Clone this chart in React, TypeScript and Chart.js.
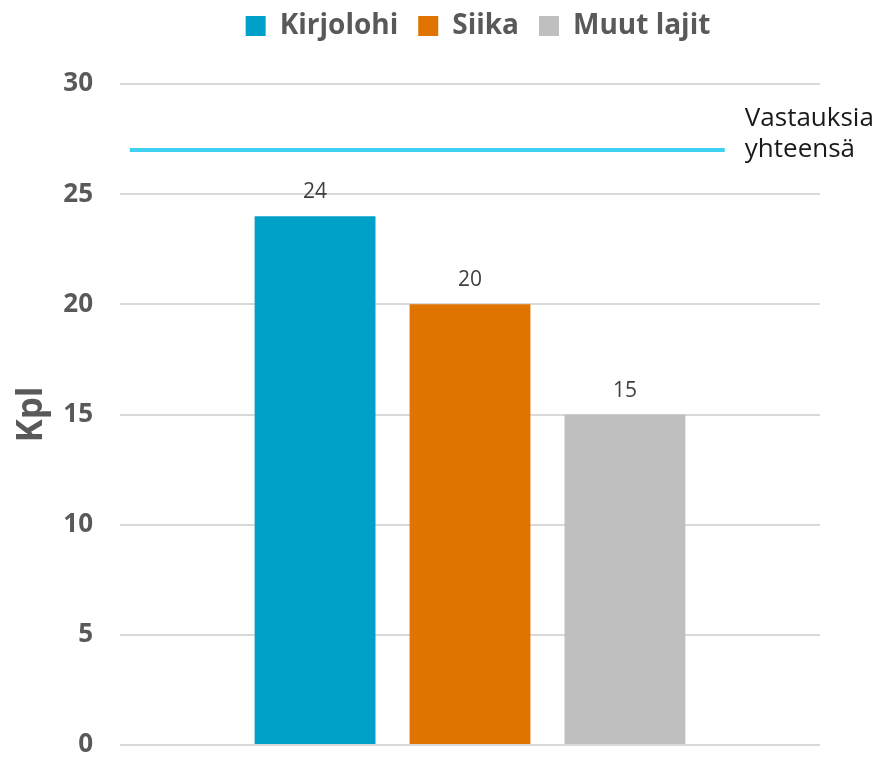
import React, { useEffect, useRef } from "react";
import { Chart, registerables } from "chart.js";

Chart.register(...registerables);

const CATEGORY_X = [0];
const SERIES_NAMES = ["Kirjolohi", "Siika", "Muut lajit"];
const SERIES_VALUES = [24, 20, 15];
const SERIES_COLORS = ["#00a1c8", "#e07400", "#bfbfbf"];
const TOTAL_LABEL = ["Vastauksia", "yhteensä"];
const TOTAL_VALUE = 27;
const TOTAL_LINE_X = [-0.486, 0.364];
const Y_TICKS = [0, 5, 10, 15, 20, 25, 30];
const Y_TITLE = "Kpl";

const FONT = "'Open Sans', 'Noto Sans', sans-serif";

const labelsPlugin = {
  id: "customLabels",
  afterLayout(chart: any) {
    const lg = chart.legend;
    if (lg) {
      const shift = 478 - (lg.left + lg.right) / 2;
      lg.left += shift;
      lg.right += shift;
      const h = lg.bottom - lg.top;
      lg.top = -8;
      lg.bottom = lg.top + h;
    }
  },
  afterDatasetsDraw(chart: any) {
    const ctx = chart.ctx;
    ctx.save();
    ctx.font = `21px ${FONT}`;
    ctx.fillStyle = "#404040";
    ctx.textAlign = "center";
    ctx.textBaseline = "alphabetic";
    SERIES_VALUES.forEach((v, i) => {
      const meta = chart.getDatasetMeta(i);
      const el = meta.data[0];
      if (!el) return;
      ctx.fillText(String(v), el.x, el.y - 18);
    });
    const lineIdx = SERIES_VALUES.length;
    const meta = chart.getDatasetMeta(lineIdx);
    const pts = meta.data;
    if (pts && pts.length) {
      const last = pts[pts.length - 1];
      ctx.font = `26px ${FONT}`;
      ctx.fillStyle = "#1a1a1a";
      ctx.textAlign = "left";
      ctx.fillText(TOTAL_LABEL[0], last.x + 20, last.y - 24);
      ctx.fillText(TOTAL_LABEL[1], last.x + 20, last.y + 7);
    }
    ctx.restore();
  },
};

export default function App() {
  const ref = useRef<HTMLCanvasElement>(null);
  useEffect(() => {
    if (!ref.current) return;
    const datasets: any[] = SERIES_NAMES.map((name, i) => ({
      type: "bar",
      label: name,
      data: [{ x: CATEGORY_X[0], y: SERIES_VALUES[i] }],
      backgroundColor: SERIES_COLORS[i],
      categoryPercentage: 0.664,
      barPercentage: 0.78,
      order: 2,
    }));
    datasets.push({
      type: "line",
      label: TOTAL_LABEL.join(" "),
      data: TOTAL_LINE_X.map((x) => ({ x, y: TOTAL_VALUE })),
      borderColor: "#3fd0f2",
      borderWidth: 4,
      pointRadius: 0,
      order: 1,
    });
    const chart = new Chart(ref.current, {
      type: "bar",
      data: { datasets },
      options: {
        animation: false,
        responsive: false,
        maintainAspectRatio: false,
        layout: { padding: { left: 0, right: 64, top: 26, bottom: 12 } },
        plugins: {
          tooltip: { enabled: false },
          legend: {
            position: "top",
            labels: {
              filter: (item: any) => item.datasetIndex < SERIES_NAMES.length,
              font: { family: FONT, size: 28, weight: "bold" },
              color: "#595959",
              boxWidth: 20,
              boxHeight: 20,
              padding: 20,
            },
          },
        },
        scales: {
          x: {
            type: "linear",
            display: false,
            offset: false,
            min: -0.5,
            max: 0.5,
            afterBuildTicks: (axis: any) => {
              axis.ticks = CATEGORY_X.map((v) => ({ value: v }));
            },
            grid: { display: false },
          },
          y: {
            min: 0,
            max: 30,
            afterBuildTicks: (axis: any) => {
              axis.ticks = Y_TICKS.map((v) => ({ value: v }));
            },
            afterFit: (axis: any) => {
              axis.width = 120;
            },
            border: { display: false },
            grid: {
              color: "#d9d9d9",
              lineWidth: 2,
              drawTicks: true,
              tickLength: 27,
              tickColor: "rgba(0,0,0,0)",
            },
            ticks: {
              padding: 0,
              font: { family: FONT, size: 26, weight: "bold", lineHeight: 0.8 },
              color: "#595959",
            },
            title: {
              display: true,
              text: Y_TITLE,
              font: { family: FONT, size: 35, weight: "bold", lineHeight: 1.2 },
              color: "#595959",
              padding: { top: 11, bottom: 0 },
            },
          },
        },
      } as any,
      plugins: [labelsPlugin],
    });
    return () => chart.destroy();
  }, []);
  return (
    <div style={{ position: "fixed", left: 0, top: 0, width: 884, height: 757, background: "#fff" }}>
      <canvas ref={ref} width={884} height={757} style={{ width: 884, height: 757 }} />
    </div>
  );
}
